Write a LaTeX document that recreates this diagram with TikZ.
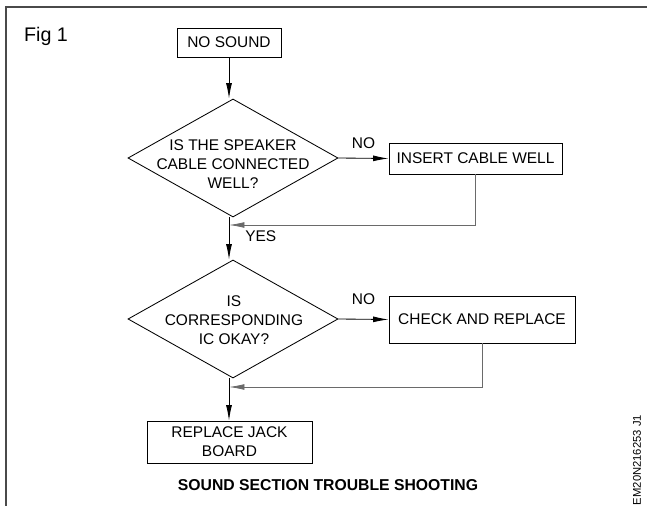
\documentclass[tikz,border=0pt]{standalone}
\usepackage{fontspec}
\setmainfont{Liberation Sans}
\usetikzlibrary{arrows.meta,shapes.geometric}
\definecolor{framegray}{HTML}{4a4a4a}
\definecolor{loopgray}{HTML}{6a6a6a}

\begin{document}
\begin{tikzpicture}[x=0.025cm,y=-0.025cm,
  box/.style={draw,line width=0.6pt,minimum width=#1,align=center,inner sep=0pt},
  decision/.style={draw,diamond,line width=0.6pt,minimum width=5.25cm,minimum height=2.95cm,inner sep=0pt},
  arr/.style={line width=0.6pt,-{Latex[length=11pt,width=4.2pt]}},
  txt/.style={font=\fontsize{11}{13.5}\selectfont,align=center}]
  \useasboundingbox (0,0) rectangle (647,506);
  \draw[framegray,line width=1.2pt] (647,7) -- (6,7) -- (6,506);
  \node[font=\fontsize{14}{16}\selectfont] (fig) at (46,36) {Fig 1};
  \node[box=2.6cm,minimum height=0.725cm,txt] (nosound) at (229,42.5) {NO SOUND};
  \node[decision] (q1) at (233,158) {};
  \node[txt] (q1text) at (233,164) {IS THE SPEAKER\\CABLE CONNECTED\\WELL?};
  \node[box=4.325cm,minimum height=0.775cm,txt] (insert) at (475.5,158.5) {INSERT CABLE WELL};
  \node[decision] (q2) at (233,319) {};
  \node[txt] (q2text) at (234,320.5) {IS\\CORRESPONDING\\IC OKAY?};
  \node[box=4.65cm,minimum height=1.175cm,txt] (check) at (482,319.5) {CHECK AND REPLACE};
  \node[box=4.125cm,minimum height=1.05cm,txt] (replace) at (229.5,442) {REPLACE JACK\\BOARD};
  \node[font=\fontsize{11.2}{13}\selectfont\bfseries] (title) at (328,485) {SOUND SECTION TROUBLE SHOOTING};
  \node[font=\fontsize{8}{9}\selectfont,rotate=90,anchor=west] (code) at (637,510) {EM20N216253 J1};
  \coordinate (m1) at (229,225);
  \coordinate (m2) at (229,387);
  \draw[arr] (nosound) -- (nosound |- q1.north);
  \draw[arr] (q1.east) -- node[txt,above=3pt] (no1) {NO} (insert.west);
  \draw[arr] (q1.south -| m1) -- (q2.north -| m1) node[txt,pos=0.45,right=8pt] (yes) {YES};
  \draw[arr,loopgray] (insert.south) |- (m1);
  \draw[arr] (q2.east) -- node[txt,above=7pt] (no2) {NO} (check.west);
  \draw[arr] (q2.south -| m2) -- (replace.north -| m2);
  \draw[arr,loopgray] (check.south) |- (m2);
\end{tikzpicture}
\end{document}
